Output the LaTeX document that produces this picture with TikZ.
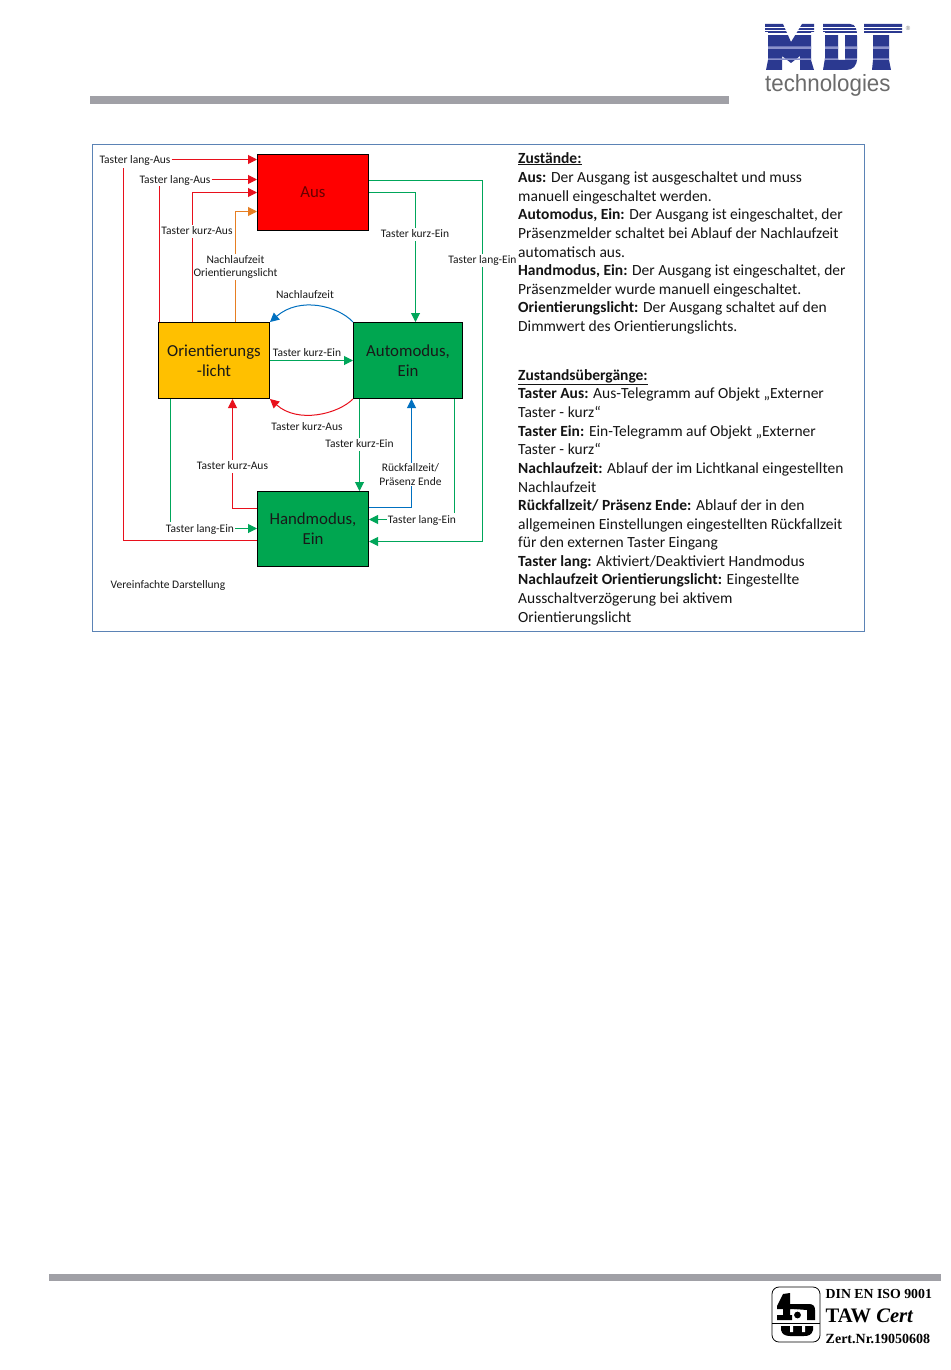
\documentclass[tikz,border=0pt]{standalone}
\usepackage{fontspec}
\setmainfont{Carlito}
\newfontfamily\serifface{Liberation Serif}
\newfontfamily\logoface{Liberation Sans}
\usetikzlibrary{arrows.meta,calc}
\definecolor{lineRed}{HTML}{E8101C}
\definecolor{lineGreen}{HTML}{00A65A}
\definecolor{lineBlue}{HTML}{0070C0}
\definecolor{lineOrange}{HTML}{E67E22}
\definecolor{boxGreen}{HTML}{00A650}
\definecolor{boxYellow}{HTML}{FFC000}
\definecolor{frameBlue}{HTML}{5B83B5}
\definecolor{barGrey}{HTML}{A0A0A6}
\definecolor{navy}{HTML}{2B3990}
\definecolor{navyLight}{HTML}{8C93CC}
\tikzset{
  statebox/.style={draw=black,line width=1pt,inner sep=0pt,align=center,font=\fontsize{16.8}{20}\selectfont,text=black!90},
  lab/.style={fill=white,inner sep=1pt,align=center,font=\fontsize{11.5}{13.5}\selectfont,text=black!90},
  labone/.style={lab,text height=9pt,text depth=2pt},
  conn/.style={line width=1pt,-{Triangle[length=9pt,width=9pt]}},
  plainconn/.style={line width=1pt},
  redc/.style={draw=lineRed},
  greenc/.style={draw=lineGreen},
  bluec/.style={draw=lineBlue},
  orangec/.style={draw=lineOrange},
  bodyline/.style={anchor=base west,inner sep=0pt,font=\fontsize{15.5}{18}\selectfont,text=black!92},
  bar/.style={fill=barGrey,draw=none},
}
\newcommand{\whitestripe}[2]{\fill[white] (760,#1) rectangle (905,#2);}
\newcommand{\lightstripe}[2]{\fill[navyLight] (768,#1) rectangle (811,#2) (825,#1) rectangle (838,#2) (845,#1) rectangle (857,#2) (873,#1) rectangle (889,#2);}
\begin{document}
\begin{tikzpicture}[x=1pt,y=-1pt]
\useasboundingbox (0,0) rectangle (950,1370);
\fill[white] (0,0) rectangle (950,1370);
% bars
\fill[bar] (90,96) rectangle (729,104);
\fill[bar] (49,1274) rectangle (941,1281);
% MDT logo
\fill[navy] (765,24) -- (783,24) -- (791,42) -- (802,24) -- (814,24) -- (814,32) -- (811,32) -- (811,60) -- (814,70) -- (800,70) -- (800,56) -- (791,63) -- (782,56) -- (782,70) -- (766,70) -- (768,60) -- (768,32) -- (765,32) -- cycle;
\fill[navy,even odd rule] (823,24) -- (850,24) .. controls (856,24) and (857,30) .. (857,36) -- (857,58) .. controls (857,66) and (853,70) .. (846,70) -- (823,70) -- (825,58) -- (825,32) -- (823,32) -- cycle
  (838,33) rectangle (845,60);
\fill[navy] (864,24) -- (902,24) -- (902,33) -- (889,33) -- (889,60) -- (891,70) -- (872,70) -- (873,60) -- (873,33) -- (864,33) -- cycle;
\whitestripe{26.6}{28.2}
\whitestripe{30.2}{31.5}
\whitestripe{33.2}{35}
\lightstripe{46.5}{49}
\lightstripe{58.5}{60}
\node[anchor=center,inner sep=0pt,text=black!55,font=\logoface\fontsize{6}{6}\selectfont] (regmark) at (908,28) {®};
\node[anchor=base west,inner sep=0pt,text=black!58,font=\logoface\fontsize{23.5}{24}\selectfont] (tech) at (765,92) {\scalebox{0.95}[1]{technologies}};
% TAW logo
\draw[black,line width=0.8pt,rounded corners=7pt,fill=white] (772,1287) rectangle (820,1342);
\draw[black,line width=0.7pt] (772,1323) -- (820,1323);
\fill[black] (783,1294) -- (790,1293) -- (790,1304) -- (797,1304) -- (797,1309) -- (790,1309) -- (790,1315) -- (792,1315) -- (792,1320) -- (777,1320) -- (777,1315) -- (783,1315) -- (783,1309) -- (777,1309) -- (777,1306) -- cycle;
\fill[black] (794,1304) -- (809,1304) .. controls (813,1304) and (815,1306) .. (815,1310) -- (815,1320) -- (807,1320) -- (807,1310) -- (794,1309) -- cycle;
\fill[black] (797.5,1315) circle (3.4);
\fill[black] (781,1326) -- (813,1326) -- (813,1330) .. controls (812,1335) and (808,1336) .. (804,1336) -- (790,1336) .. controls (785,1336) and (782,1334) .. (781,1330) -- cycle;
\fill[white] (790,1326) rectangle (793,1332) (802,1326) rectangle (805,1332);
\node[anchor=base west,inner sep=0pt,font=\serifface\bfseries\fontsize{13.8}{14}\selectfont] (din) at (825.5,1298) {DIN EN ISO 9001};
\node[anchor=base west,inner sep=0pt,font=\serifface\bfseries\fontsize{20.6}{21}\selectfont] (taw) at (825.5,1322) {TAW \textit{Cert}};
\node[anchor=base west,inner sep=0pt,font=\serifface\bfseries\fontsize{14}{14}\selectfont] (zert) at (825.5,1343) {Zert.Nr.19050608};
% frame
\draw[frameBlue,line width=1pt] (92.5,144.5) rectangle (864.5,631.5);
% state boxes
\node[statebox,fill=red,text=red!40!black,minimum width=111pt,minimum height=76pt] (aus) at (313,192.5) {Aus};
\node[statebox,fill=boxYellow,minimum width=111pt,minimum height=76pt] (orient) at (214,360.5) {Orientierungs\\-licht};
\node[statebox,fill=boxGreen,minimum width=109pt,minimum height=76pt] (auto) at (408,360.5) {Automodus,\\Ein};
\node[statebox,fill=boxGreen,minimum width=111pt,minimum height=75pt] (hand) at (313,529) {Handmodus,\\Ein};
% labels that connectors end on
\node[labone] (llaus1) at (135,159.5) {Taster lang-Aus};
\node[labone] (llaus2) at (175,179.5) {Taster lang-Aus};
\node[labone] (lein2) at (422,519.5) {Taster lang-Ein};
\node[labone] (lein3) at (200,528.5) {Taster lang-Ein};
% connectors
\draw[conn,redc] (llaus1.east) -- (llaus1.east -| aus.west);
\draw[plainconn,redc] (hand.west |- 0,540.5) -| (123.5,168);
\draw[conn,redc] (llaus2.east) -- (llaus2.east -| aus.west);
\draw[plainconn,redc] (orient.north -| 159.5,0) -- (llaus2.south -| 159.5,0);
\draw[conn,redc] (orient.north -| 192.5,0) |- (aus.west |- 0,192.5);
\draw[conn,orangec] (orient.north -| 235.5,0) |- (aus.west |- 0,211.5);
\draw[conn,greenc] (aus.east |- 0,192.5) -| (auto.north -| 415.5,0);
\draw[conn,greenc] (aus.east |- 0,180.5) -| (482.5,541.5) -- (hand.east |- 0,541.5);
\draw[conn,bluec] (auto.north west) .. controls (338,306) and (300,296) .. (orient.north east);
\draw[conn,greenc] (orient.east) -- (auto.west);
\draw[conn,redc] (auto.south west) .. controls (338,414) and (298,424) .. (orient.south east);
\draw[conn,redc] (hand.west |- 0,508.5) -| (orient.south -| 232.5,0);
\draw[conn,greenc] (auto.south -| 359.5,0) -- (hand.north -| 359.5,0);
\draw[conn,bluec] (hand.east |- 0,507.5) -| (auto.south -| 411.5,0);
\draw[plainconn,greenc] (auto.south -| 454.5,0) -- (lein2.north -| 454.5,0);
\draw[conn,greenc] (lein2.west) -- (lein2.west -| hand.east);
\draw[plainconn,greenc] (orient.south -| 170.5,0) -- (lein3.north -| 170.5,0);
\draw[conn,greenc] (lein3.east) -- (lein3.east -| hand.west);
% labels standing on connectors
\node[labone] (kaus1) at (197,231) {Taster kurz-Aus};
\node[lab] (nlo) at (235.5,267) {Nachlaufzeit\\Orientierungslicht};
\node[labone] (kein1) at (415,234) {Taster kurz-Ein};
\node[labone] (lein1) at (482.5,260) {Taster lang-Ein};
\node[labone,fill=none] (nl) at (305,295) {Nachlaufzeit};
\node[labone,fill=none] (kein2) at (307,353) {Taster kurz-Ein};
\node[labone,fill=none] (kaus2) at (307,426.5) {Taster kurz-Aus};
\node[labone] (kein3) at (359.5,444) {Taster kurz-Ein};
\node[labone] (kaus3) at (232.5,466) {Taster kurz-Aus};
\node[lab] (rf) at (410.5,474.5) {Rückfallzeit/\\Präsenz Ende};
\node[lab,fill=none,anchor=west,inner sep=0pt] (vd) at (110.5,585) {Vereinfachte Darstellung};
% text block
\node[bodyline] (t1) at (518,163) {\underline{\textbf{Zustände:}}};
\node[bodyline] (t2) at (518,182) {\textbf{Aus:} Der Ausgang ist ausgeschaltet und muss};
\node[bodyline] (t3) at (518,201) {manuell eingeschaltet werden.};
\node[bodyline] (t4) at (518,219) {\textbf{Automodus, Ein:} Der Ausgang ist eingeschaltet, der};
\node[bodyline] (t5) at (518,238) {Präsenzmelder schaltet bei Ablauf der Nachlaufzeit};
\node[bodyline] (t6) at (518,257) {automatisch aus.};
\node[bodyline] (t7) at (518,275) {\textbf{Handmodus, Ein:} Der Ausgang ist eingeschaltet, der};
\node[bodyline] (t8) at (518,294) {Präsenzmelder wurde manuell eingeschaltet.};
\node[bodyline] (t9) at (518,312) {\textbf{Orientierungslicht:} Der Ausgang schaltet auf den};
\node[bodyline] (t10) at (518,331) {Dimmwert des Orientierungslichts.};
\node[bodyline] (u1) at (518,380) {\underline{\textbf{Zustandsübergänge:}}};
\node[bodyline] (u2) at (518,398) {\textbf{Taster Aus:} Aus-Telegramm auf Objekt „Externer};
\node[bodyline] (u3) at (518,417) {Taster - kurz“};
\node[bodyline] (u4) at (518,436) {\textbf{Taster Ein:} Ein-Telegramm auf Objekt „Externer};
\node[bodyline] (u5) at (518,454) {Taster - kurz“};
\node[bodyline] (u6) at (518,473) {\textbf{Nachlaufzeit:} Ablauf der im Lichtkanal eingestellten};
\node[bodyline] (u7) at (518,492) {Nachlaufzeit};
\node[bodyline] (u8) at (518,510) {\textbf{Rückfallzeit/ Präsenz Ende:} Ablauf der in den};
\node[bodyline] (u9) at (518,529) {allgemeinen Einstellungen eingestellten Rückfallzeit};
\node[bodyline] (u10) at (518,547) {für den externen Taster Eingang};
\node[bodyline] (u11) at (518,566) {\textbf{Taster lang:} Aktiviert/Deaktiviert Handmodus};
\node[bodyline] (u12) at (518,584) {\textbf{Nachlaufzeit Orientierungslicht:} Eingestellte};
\node[bodyline] (u13) at (518,603) {Ausschaltverzögerung bei aktivem};
\node[bodyline] (u14) at (518,622) {Orientierungslicht};
\end{tikzpicture}
\end{document}
